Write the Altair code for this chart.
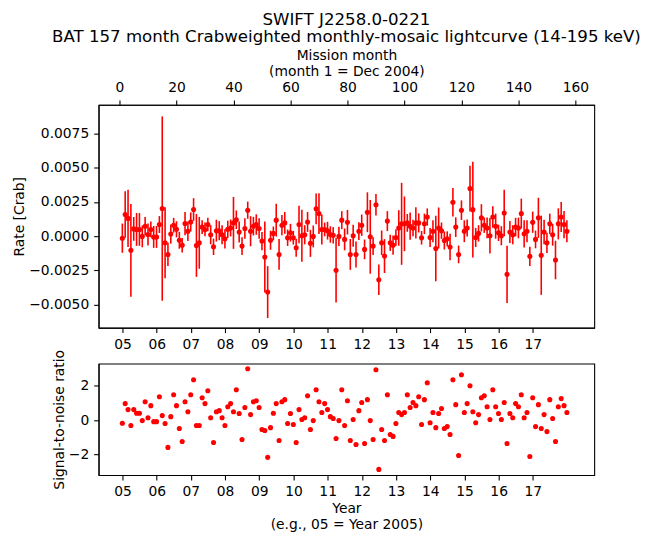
import altair as alt
import pandas as pd

months = list(range(1, 158))

rate = [
 -0.00015, 0.00158, 0.0013, -0.00104, 0.00053, 0.00049, 0.00049, -0.00002, 0.00073, 0.00012,
 0.00049, -0.00006, -0.00006, 0.00085, 0.00202, -0.00049, -0.00134, 0.00015, 0.0008, 0.0005,
 -0.0003, -0.00066, 0.00092, 0.00036, 0.00104, 0.00195, -0.00068, -0.00049, 0.00066, 0.00049,
 0.00085, 0.0001, -0.00078, 0.0004, 0.0004, 0.0001, -0.0002, 0.0005, 0.0006, 0.00097,
 0.0012, 0.0003, -0.00073, 0.00056, 0.0019, 0.00036, 0.00073, 0.00085, 0.00056, -0.00036,
 -0.00153, -0.0041, -0.0003, 0.0002, 0.00117, -0.00134, 0.0008, 0.00097, -0.00012, 0.00025,
 -0.00012, -0.00085, 0.00085, 0.00003, 0.0001, 0.00104, -0.00053, -0.00002, 0.002, 0.00165,
 0.00049, 0.00049, 0.0004, 0.00012, 0.00006, -0.0025, -0.00002, 0.00117, -0.00024, 0.00102,
 -0.00134, 0.00003, -0.00134, 0.00036, 0.0008, -0.00097, 0.00175, -0.00005, -0.00073, 0.0023,
 -0.0032, -0.00049, -0.00146, 0.0011, -0.00049, -0.00066, -0.0001, 0.0006, 0.0009, 0.0009,
 0.00097, 0.00073, 0.0006, 0.00097, 0.00097, -0.00012, 0.0009, 0.0014, -0.0001, 0.00036,
 -0.0009, 0.0006, 0.0004, -0.00032, -0.0002, -0.0008, 0.00248, 0.00066, -0.00134, 0.0019,
 0.00036, 0.0006, 0.00348, 0.00194, -0.0001, 0.0002, 0.00134, 0.0008, 0.0006, 0.00003,
 0.0014, 0.00073, 0.00024, 0.00003, 0.0017, -0.0028, 0.0003, 0.0001, 0.00066, 0.0006,
 0.00165, 0.00017, 0.00036, -0.00148, 0.00102, -0.00024, 0.00134, -0.0014, 0.0003, -0.00049,
 0.0009, 0.0001, -0.00175, 0.0009, 0.0014, 0.00085, 0.00036,
]

err = [
 0.00107, 0.0017, 0.0021, 0.0034, 0.00087, 0.0012, 0.0012, 0.0008, 0.00068, 0.0008,
 0.00058, 0.0008, 0.0008, 0.00062, 0.00675, 0.0026, 0.00085, 0.0007, 0.00054, 0.00059,
 0.00062, 0.00053, 0.00085, 0.00072, 0.0007, 0.00083, 0.0023, 0.0019, 0.0005, 0.0005,
 0.0005, 0.0007, 0.0006, 0.0008, 0.0007, 0.0007, 0.0007, 0.00063, 0.00062, 0.0019,
 0.00068, 0.00077, 0.00065, 0.00075, 0.00063, 0.0011, 0.00068, 0.00075, 0.00075, 0.00067,
 0.0026, 0.0019, 0.0007, 0.0005, 0.0012, 0.00113, 0.00074, 0.0008, 0.0006, 0.00065,
 0.0005, 0.00066, 0.00137, 0.0019, 0.0007, 0.00073, 0.00099, 0.0008, 0.00113, 0.0015,
 0.0011, 0.0005, 0.00065, 0.0006, 0.0006, 0.00236, 0.0007, 0.00066, 0.0008, 0.0009,
 0.00113, 0.0008, 0.00095, 0.00065, 0.00078, 0.00072, 0.00146, 0.0027, 0.00065, 0.00079,
 0.00112, 0.0009, 0.00124, 0.00073, 0.00059, 0.0007, 0.0006, 0.0013, 0.003, 0.002,
 0.00065, 0.001, 0.0006, 0.00114, 0.0007, 0.0005, 0.00075, 0.00063, 0.0007, 0.0008,
 0.0024, 0.0015, 0.0006, 0.00066, 0.00055, 0.00097, 0.00105, 0.00072, 0.00065, 0.00072,
 0.0008, 0.00062, 0.00167, 0.0035, 0.0007, 0.0006, 0.001, 0.00056, 0.00076, 0.0013,
 0.00079, 0.00092, 0.0006, 0.0007, 0.0017, 0.0021, 0.0008, 0.0007, 0.00068, 0.00076,
 0.0011, 0.001, 0.0008, 0.0007, 0.00078, 0.00065, 0.00147, 0.0029, 0.0009, 0.00074,
 0.00075, 0.0008, 0.00141, 0.00114, 0.0011, 0.001, 0.0008,
]

snr = [
 -0.17, 0.97, 0.62, -0.31, 0.62, 0.41, 0.41, -0.02, 1.08, 0.15,
 0.85, -0.08, -0.08, 1.37, 0.27, -0.19, -1.58, 0.21, 1.49, 0.85,
 -0.48, -1.24, 1.08, 0.50, 1.49, 2.36, -0.31, -0.31, 1.31, 0.97,
 1.72, 0.15, -1.29, 0.50, 0.56, 0.15, -0.31, 0.79, 0.97, 0.50,
 1.78, 0.39, -1.12, 0.74, 3.00, 0.33, 1.08, 1.14, 0.74, -0.54,
 -0.60, -2.16, -0.43, 0.41, 0.97, -1.18, 1.08, 1.20, -0.19, 0.39,
 -0.25, -1.29, 0.62, 0.04, 0.15, 1.43, -0.54, -0.02, 1.78, 1.08,
 0.45, 0.97, 0.62, 0.21, 0.10, -1.06, -0.02, 1.78, -0.31, 1.14,
 -1.18, 0.04, -1.41, 0.56, 1.03, -1.35, 1.20, -0.02, -1.12, 2.94,
 -2.86, -0.54, -1.18, 1.49, -0.83, -0.94, -0.19, 0.45, 0.33, 0.45,
 1.49, 0.74, 1.03, 0.85, 1.37, -0.25, 1.20, 2.18, -0.14, 0.45,
 -0.43, 0.39, 0.68, -0.48, -0.37, -0.83, 2.36, 0.91, -2.05, 2.65,
 0.45, 0.97, 2.01, 0.50, -0.14, 0.33, 1.31, 1.43, 0.79, 0.04,
 1.78, 0.79, 0.39, 0.04, 1.03, -1.35, 0.39, 0.15, 0.97, 0.79,
 1.49, 0.15, 0.45, -2.11, 1.31, -0.37, 0.91, -0.48, 0.33, -0.66,
 1.20, 0.10, -1.24, 0.79, 1.26, 0.85, 0.45,
]

month_ticks = [0, 20, 40, 60, 80, 100, 120, 140, 160]
year_ticks = [1.05 + 12 * k for k in range(13)]
rate_ticks = [-0.005, -0.0025, 0.0, 0.0025, 0.005, 0.0075]
snr_ticks = [-2, 0, 2]

df = pd.DataFrame({"month": months, "rate": rate, "err": err, "snr": snr})
df["lo"] = df["rate"] - df["err"]
df["hi"] = df["rate"] + df["err"]

FONT = "DejaVu Sans"
RED = "#ff0000"

x_scale = alt.Scale(domain=[-7.34, 166.6], nice=False, zero=False)
year_label = "format(round((datum.value - 1.05) / 12) + 5, '02d')"

bottom_year_axis = alt.Axis(orient="bottom", values=year_ticks, labelExpr=year_label,
                            title=None, grid=False)
top_month_axis = alt.Axis(orient="top", values=month_ticks, format="d",
                          title=["Mission month", "(month 1 = Dec 2004)"], grid=False,
                          titlePadding=3)
rate_axis = alt.Axis(values=rate_ticks, format=".4f", title="Rate [Crab]", grid=False,
                     titlePadding=2)
rate_scale = alt.Scale(domain=[-0.00671, 0.00962], nice=False, zero=False)

base = alt.Chart(df)

rules = base.mark_rule(color=RED, strokeWidth=1.6).encode(
    x=alt.X("month:Q", scale=x_scale, axis=bottom_year_axis),
    y=alt.Y("lo:Q", scale=rate_scale, axis=rate_axis),
    y2="hi:Q",
)
pts = base.mark_circle(color=RED, size=26, opacity=1).encode(
    x=alt.X("month:Q", scale=x_scale, axis=top_month_axis),
    y=alt.Y("rate:Q", scale=rate_scale, axis=rate_axis),
)

top = alt.layer(rules, pts).resolve_axis(x="independent").properties(
    width=498, height=224,
    title=alt.Title(["SWIFT J2258.0-0221",
                     "BAT 157 month Crabweighted monthly-mosaic lightcurve (14-195 keV)"],
                    fontSize=16.7, font=FONT, fontWeight="normal", anchor="middle",
                    frame="group", offset=2, lineHeight=18, color="black"),
)

bottom = base.mark_circle(color=RED, size=26, opacity=1).encode(
    x=alt.X("month:Q", scale=x_scale,
            axis=alt.Axis(orient="bottom", values=year_ticks, labelExpr=year_label,
                          title=["Year", "(e.g., 05 = Year 2005)"], grid=False,
                          titlePadding=3)),
    y=alt.Y("snr:Q", scale=alt.Scale(domain=[-3.19, 3.30], nice=False, zero=False),
            axis=alt.Axis(values=snr_ticks, format="d", title="Signal-to-noise ratio",
                          grid=False, titlePadding=2)),
).properties(width=498, height=112)

chart = alt.vconcat(top, bottom, spacing=36, bounds="flush").properties(
    padding={"left": 4, "top": 1, "right": 5, "bottom": 5},
    background="white",
).configure_view(stroke="black", strokeWidth=1.1).configure_axis(
    labelFont=FONT, titleFont=FONT, labelFontSize=13.9, titleFontSize=13.9,
    titleFontWeight="normal", labelColor="black", titleColor="black",
    tickColor="black", domainColor="black", tickSize=4.9, tickWidth=1.1,
    domainWidth=1.1, labelPadding=5, titleLineHeight=16,
)

chart.save("out.html", embed_options={"renderer": "svg", "actions": False})
